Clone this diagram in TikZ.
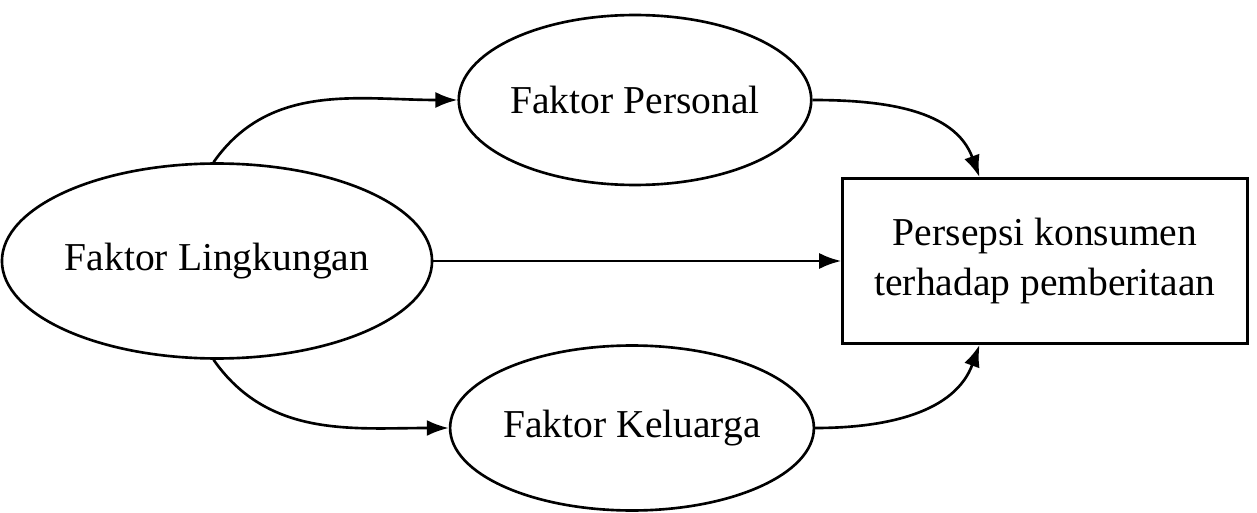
\documentclass[tikz,border=0pt]{standalone}
\usepackage{fontspec}
\setmainfont{Liberation Serif}
\usetikzlibrary{shapes.geometric,arrows.meta}
\tikzset{
	faktor/.style={draw, ellipse, line width=1.5pt, inner sep=0pt},
	kotak/.style={draw, rectangle, line width=1.5pt, align=center, inner sep=0pt},
	panah/.style={-{Latex[length=0.44cm, width=0.32cm]}, line width=1.5pt}
}
\begin{document}
\begin{tikzpicture}[x=0.02cm, y=-0.02cm, font=\fontsize{22.5}{28}\selectfont]
	\useasboundingbox (0,0) rectangle (1257,513);
	\node[faktor, minimum width=8.2cm, minimum height=3.9cm] at (217,261) (lingkungan) {Faktor Lingkungan};
	\node[faktor, minimum width=6.9cm, minimum height=3.4cm] at (635,100) (personal) {Faktor Personal};
	\node[faktor, minimum width=6.95cm, minimum height=3.3cm] at (632,428) (keluarga) {Faktor Keluarga};
	\node[kotak, minimum width=8.1cm, minimum height=3.3cm] at (1045,261) (persepsi) {Persepsi konsumen\\terhadap pemberitaan};
	\draw[panah] (lingkungan.92) to[out=55, in=180] (personal.west);
	\draw[panah] (lingkungan.268) to[out=-55, in=180] (keluarga.west);
	\draw[panah] (lingkungan.east) -- (persepsi.west);
	\draw[panah] (personal.east) to[out=0, in=110] (persepsi.128);
	\draw[panah] (keluarga.east) to[out=0, in=-110] (persepsi.232);
\end{tikzpicture}
\end{document}
